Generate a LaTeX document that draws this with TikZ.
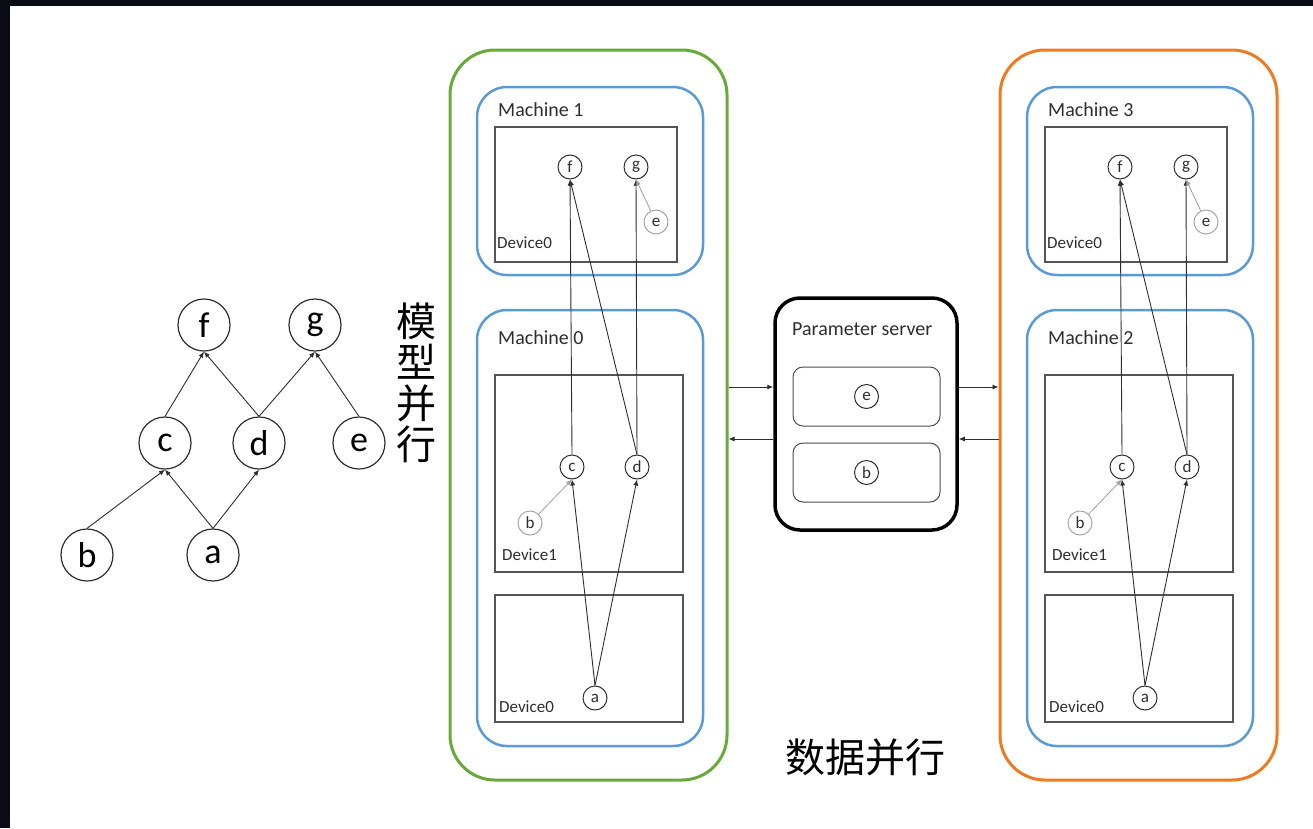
\documentclass[tikz,border=0pt]{standalone}
\usepackage{fontspec}
\setmainfont{Carlito}
\newfontfamily\cjk{Noto Sans CJK SC}
\usetikzlibrary{arrows.meta}

\definecolor{frameink}{HTML}{0B0B16}
\definecolor{dpgreen}{HTML}{68AA3A}
\definecolor{dporange}{HTML}{EE7A22}
\definecolor{machblue}{HTML}{5B9BD5}
\definecolor{devgray}{HTML}{555555}
\definecolor{inkgray}{HTML}{2E2E2E}

\tikzset{
  link/.style={-{Latex[length=6pt,width=5pt]}, line width=0.9pt, draw=inkgray},
  faintlink/.style={-{Latex[length=6pt,width=5pt]}, line width=0.8pt, draw=gray!75},
  vnode/.style={circle, draw=inkgray, line width=1pt, minimum size=24pt, inner sep=0pt,
    font=\fontsize{17}{17}\selectfont, text=inkgray},
  pvar/.style={vnode, draw=gray!70},
  bignode/.style={circle, draw=inkgray, line width=1.2pt, minimum size=52pt, inner sep=0pt,
    font=\fontsize{36}{36}\selectfont, text=black},
  machine/.style={draw=machblue, line width=2.5pt, rounded corners=30pt},
  device/.style={draw=devgray, line width=1.2pt},
  txt/.style={anchor=west, inner sep=0pt, text=inkgray},
  mlabel/.style={txt, font=\fontsize{20}{20}\selectfont},
  dlabel/.style={txt, font=\fontsize{17}{17}\selectfont},
  clusterframe/.style={draw=#1, line width=3pt, rounded corners=45pt,
    minimum width=277pt, minimum height=730pt, inner sep=0pt},
  slot/.style={draw=gray!60!black, line width=1pt, rounded corners=10pt,
    minimum width=147pt, minimum height=59pt, inner sep=0pt},
  cjklabel/.style={font=\cjk\fontsize{40}{41}\selectfont, text=black, align=center, inner sep=0pt},
}

% One data-parallel replica: two machines holding the split graph
% #1 name prefix, #2 horizontal shift, #3 frame colour, #4/#5 machine names
\newcommand{\machinecluster}[5]{%
\begin{scope}[xshift=#2]
  \node[clusterframe=#3] (#1frame) at (588.5,415) {};
  % upper machine
  \draw[machine] (477,87) rectangle (703,275);
  \node[mlabel] (#1topname) at (498,110) {#4};
  \draw[device] (495,127) rectangle (677,262);
  \node[dlabel] (#1topdev) at (497,243) {Device0};
  \node[vnode] (#1f) at (570,167) {f};
  \node[vnode] (#1g) at (636,167) {g};
  \node[pvar] (#1e) at (656,222) {e};
  % lower machine
  \draw[machine] (477,310) rectangle (703,746);
  \node[mlabel] (#1lowname) at (498,338) {#5};
  \draw[device] (495,375) rectangle (683,572);
  \node[dlabel] (#1devone) at (502,555) {Device1};
  \node[vnode] (#1c) at (572,467) {c};
  \node[vnode] (#1d) at (637,467) {d};
  \node[pvar] (#1b) at (530,523) {b};
  \draw[device] (495,595) rectangle (683,722);
  \node[dlabel] (#1devzero) at (499,707) {Device0};
  \node[vnode] (#1a) at (595,698) {a};
  % dataflow
  \draw[link] (#1c.north) -- (#1f.south);
  \draw[link] (#1d.north) -- (#1f.south);
  \draw[link] (#1d.north) -- (#1g.south);
  \draw[faintlink] (#1e) -- (#1g.south);
  \draw[faintlink] (#1b) -- (#1c.south);
  \draw[link] (#1a.north) -- (#1c.south);
  \draw[link] (#1a.north) -- (#1d.south);
\end{scope}}

\begin{document}
\begin{tikzpicture}[x=1pt, y=-1pt]
  \useasboundingbox (0,0) rectangle (1313,828);
  \fill[white] (0,0) rectangle (1313,828);
  \fill[frameink] (0,0) rectangle (1313,6);
  \fill[frameink] (0,0) rectangle (10,828);

  % computation graph
  \node[bignode] (f) at (204,325) {f};
  \node[bignode] (g) at (315,325) {g};
  \node[bignode] (c) at (165,443) {c};
  \node[bignode] (d) at (259,443) {d};
  \node[bignode] (e) at (359,443) {e};
  \node[bignode] (b) at (87,555) {b};
  \node[bignode] (a) at (213,555) {a};
  \draw[link] (b.north) -- (c.south);
  \draw[link] (a.north) -- (c.south);
  \draw[link] (a.north) -- (d.south);
  \draw[link] (c.north) -- (f.south);
  \draw[link] (d.north) -- (f.south);
  \draw[link] (d.north) -- (g.south);
  \draw[link] (e.north) -- (g.south);

  \node[cjklabel] (mp) at (416,383) {模\\型\\并\\行};

  % two replicas
  \machinecluster{L}{0}{dpgreen}{Machine 1}{Machine 0}
  \machinecluster{R}{550}{dporange}{Machine 3}{Machine 2}

  % parameter server
  \node[draw=black, line width=3.5pt, rounded corners=25pt, minimum width=182pt,
        minimum height=232pt, inner sep=0pt] (ps) at (866,414) {};
  \node[mlabel] (pstitle) at (792,329) {Parameter server};
  \node[slot] (pse) at (866.5,396.5) {};
  \node[slot] (psb) at (866.5,472.5) {};
  \node[vnode] (pe) at (pse) {e};
  \node[vnode] (pb) at (psb) {b};

  \coordinate (upper) at (0,387);
  \coordinate (lower) at (0,439);
  \draw[link] (Lframe.east |- upper) -- (ps.west |- upper);
  \draw[link] (ps.west |- lower) -- (Lframe.east |- lower);
  \draw[link] (ps.east |- upper) -- (Rframe.west |- upper);
  \draw[link] (Rframe.west |- lower) -- (ps.east |- lower);

  \node[cjklabel] (dp) at (865,757) {数据并行};
\end{tikzpicture}
\end{document}
